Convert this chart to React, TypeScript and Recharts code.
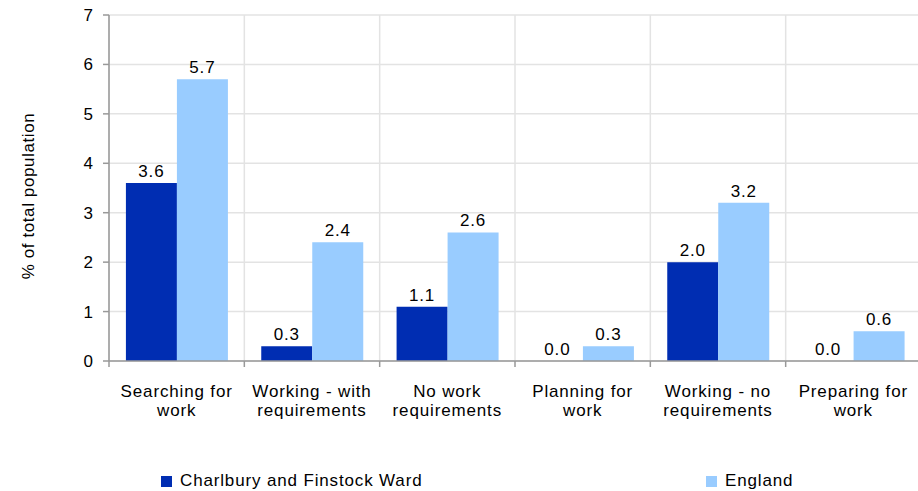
import React from "react";
import { BarChart, Bar, XAxis, YAxis, CartesianGrid, LabelList } from "recharts";

const categories = [
  "Searching for\nwork",
  "Working - with\nrequirements",
  "No work\nrequirements",
  "Planning for\nwork",
  "Working - no\nrequirements",
  "Preparing for\nwork",
];
const seriesNames = ["Charlbury and Finstock Ward", "England"];
const wardValues = [3.6, 0.3, 1.1, 0.0, 2.0, 0.0];
const englandValues = [5.7, 2.4, 2.6, 0.3, 3.2, 0.6];
const yTicks = [0, 1, 2, 3, 4, 5, 6, 7];
const yLabel = "% of total population";
const colors = ["#002DB2", "#99CCFF"];

const data = categories.map((c, i) => ({ cat: c, ward: wardValues[i], england: englandValues[i] }));

const FONT = "'Liberation Sans', Arial, sans-serif";
const FS = 17;
const LS = 0.85;

const XTick = (props: any) => {
  const { x, y, payload } = props;
  const lines = String(payload.value).split("\n");
  const off = payload.offset || 0;
  const last = payload.index === categories.length - 1;
  return (
    <g>
      <line x1={x - off} x2={x - off} y1={y - 6} y2={y} stroke="#999" strokeWidth={1.5} />
      {last && <line x1={x + off} x2={x + off} y1={y - 6} y2={y} stroke="#999" strokeWidth={1.5} />}
      <text x={x} y={y} textAnchor="middle" fontFamily={FONT} fontSize={FS} letterSpacing={LS} fill="#000">
        {lines.map((l, i) => (
          <tspan key={i} x={x} dy={i === 0 ? 30 : 19}>{l}</tspan>
        ))}
      </text>
    </g>
  );
};

const YLabel = (props: any) => {
  const vb = props.viewBox || {};
  const cx = 28;
  const cy = vb.y + vb.height / 2 + 8;
  return (
    <text
      x={cx}
      y={cy}
      transform={`rotate(-90 ${cx} ${cy})`}
      textAnchor="middle"
      dominantBaseline="central"
      fontFamily={FONT}
      fontSize={FS}
      letterSpacing={0.6}
      fill="#000"
    >
      {yLabel}
    </text>
  );
};

const fmt = (v: any) => Number(v).toFixed(1);
const minSize = (v: any) => (Number(v) === 0 ? 0.01 : 0);
const labelStyle = { fill: "#000", fontSize: FS, fontFamily: FONT, letterSpacing: LS };

export default function App() {
  return (
    <div style={{ position: "absolute", left: 0, top: 0, width: 918, height: 491, background: "#fff" }}>
      <BarChart
        width={918}
        height={491}
        data={data}
        margin={{ top: 15, right: -3, left: 0, bottom: 70 }}
        barCategoryGap="12.5%"
        barGap={0}
      >
        <CartesianGrid
          stroke="#e3e3e3"
          strokeWidth={1.5}
          verticalCoordinatesGenerator={({ offset }: any) =>
            categories.map((_, i) => offset.left + (i * offset.width) / categories.length).concat([offset.left + offset.width])
          }
        />
        <XAxis
          dataKey="cat"
          interval={0}
          height={60}
          tickLine={false}
          tickSize={6}
          tickMargin={0}
          axisLine={{ stroke: "#999", strokeWidth: 1.5 }}
          tick={<XTick />}
        />
        <YAxis
          width={109}
          domain={[0, 7]}
          ticks={yTicks}
          interval={0}
          tickSize={6}
          tickMargin={10}
          axisLine={{ stroke: "#999", strokeWidth: 1.5 }}
          tickLine={{ stroke: "#999", strokeWidth: 1.5 }}
          tick={{ fill: "#000", fontSize: FS, fontFamily: FONT }}
          label={{ position: "insideLeft", content: <YLabel /> }}
        />
        <Bar dataKey="ward" name={seriesNames[0]} fill={colors[0]} minPointSize={minSize} isAnimationActive={false}>
          <LabelList dataKey="ward" position="top" offset={6} formatter={fmt} style={labelStyle} />
        </Bar>
        <Bar dataKey="england" name={seriesNames[1]} fill={colors[1]} minPointSize={minSize} isAnimationActive={false}>
          <LabelList dataKey="england" position="top" offset={6} formatter={fmt} style={labelStyle} />
        </Bar>
      </BarChart>
      {seriesNames.map((n, i) => (
        <div
          key={n}
          style={{
            position: "absolute",
            left: i === 0 ? 161 : 706,
            top: 470,
            display: "flex",
            alignItems: "center",
            fontFamily: FONT,
            fontSize: FS,
            letterSpacing: LS,
            lineHeight: "22px",
            color: "#000",
            whiteSpace: "nowrap",
          }}
        >
          <span style={{ display: "inline-block", width: 11, height: 11, background: colors[i], marginRight: 8 }} />
          {n}
        </div>
      ))}
    </div>
  );
}
